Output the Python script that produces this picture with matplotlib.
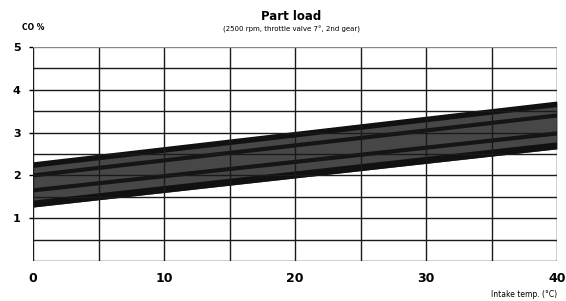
import numpy as np
import matplotlib.pyplot as plt

# band edges and inner dark lines, read at intake temp 0 and 40 degC
temp = [0, 40]
band_top = [2.30, 3.72]
band_bottom = [1.26, 2.62]
inner_hi = [2.00, 3.40]
inner_lo = [1.65, 2.98]
xticks = [0, 10, 20, 30, 40]
yticks = [1, 2, 3, 4, 5]

fig = plt.figure(figsize=(5.66, 3.01), dpi=100)
ax = fig.add_axes([33/566, 1 - 261/301, 524/566, 214/301])

ax.fill_between(temp, band_bottom, band_top, color='#474747', lw=0, zorder=2)
ax.plot(temp, np.array(band_top) - 0.06, color='#111111', lw=4, zorder=3)
ax.plot(temp, np.array(band_bottom) + 0.07, color='#111111', lw=5, zorder=3)
ax.plot(temp, inner_hi, color='#151515', lw=3, zorder=3)
ax.plot(temp, inner_lo, color='#151515', lw=3, zorder=3)

for x in np.arange(0, 41, 5):
	ax.axvline(x, color='#1a1a1a', lw=1.0, zorder=4)
for y in np.arange(0, 4.51, 0.5):
	ax.axhline(y, color='#1a1a1a', lw=1.0, zorder=4)
ax.axhline(5, color='#888888', lw=1.0, zorder=4)

ax.set_xlim(0, 40)
ax.set_ylim(0, 5)
for sp in ax.spines.values():
	sp.set_visible(False)
ax.set_xticks(xticks)
ax.set_xticklabels(['0', '10', '20', '30', '40'], fontsize=9, fontweight='bold')
ax.set_yticks(yticks)
ax.set_yticklabels([str(v) for v in yticks], fontsize=8, fontweight='bold')
ax.tick_params(axis='x', length=0, pad=8)
ax.tick_params(axis='y', length=3, width=1.0, pad=6)

fig.text(0.515, 1 - 17/301, 'Part load', ha='center', va='center', fontsize=8.5, fontweight='bold')
fig.text(0.515, 1 - 29/301, '(2500 rpm, throttle valve 7°, 2nd gear)', ha='center', va='center', fontsize=5)
fig.text(22/566, 1 - 28/301, 'CO %', ha='left', va='center', fontsize=5.5, fontweight='bold')
fig.text(0.985, 0.02, 'Intake temp. (°C)', ha='right', va='center', fontsize=5.5)

fig.savefig('out.png', dpi=100)
